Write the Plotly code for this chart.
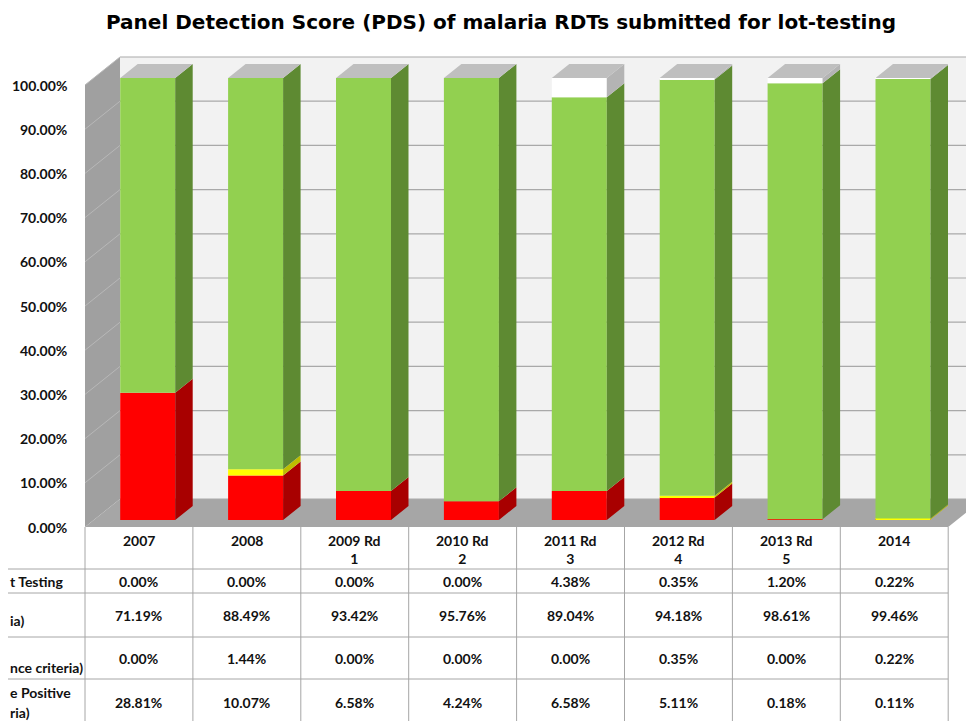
# Panel Detection Score (PDS) of malaria RDTs - 3D-looking stacked columns with data table
import plotly.graph_objects as go

# Categories and the four series (percent of products)
rounds: list[str] = ["2007", "2008", "2009 Rd<br>1", "2010 Rd<br>2", "2011 Rd<br>3",
                     "2012 Rd<br>4", "2013 Rd<br>5", "2014"]
lot_testing: list[float] = [0.00, 0.00, 0.00, 0.00, 4.38, 0.35, 1.20, 0.22]
passed: list[float] = [71.19, 88.49, 93.42, 95.76, 89.04, 94.18, 98.61, 99.46]
borderline: list[float] = [0.00, 1.44, 0.00, 0.00, 0.00, 0.35, 0.00, 0.22]
failed: list[float] = [28.81, 10.07, 6.58, 4.24, 6.58, 5.11, 0.18, 0.11]
y_ticks: list[int] = [0, 10, 20, 30, 40, 50, 60, 70, 80, 90, 100]

# Row labels of the data table (only the right end shows in the picture)
row_labels: list[str] = ["t Testing", "ia)", "nce criteria)", "e Positive", "ria)"]

# Page geometry: the figure sits 8px in from the page corner (body margin)
OFF = 8
W, H = 974 - OFF, 721 - OFF
col_w = 107.9          # width of one category column
x_left = 85            # front-left corner of the floor (screen px)
y_zero = 527           # screen y of 0 %
px_per_pct = 4.42
depth_dx, depth_dy = 35 / col_w, 28 / px_per_pct   # floor depth in data units
bar_w = 55 / col_w

x_range = [-0.5 - (x_left - OFF) / col_w, -0.5 + (974 - x_left) / col_w]
y_range = [(y_zero - 721) / px_per_pct, (y_zero - OFF) / px_per_pct]


def paper_x(p: float) -> float:
    return (p - OFF) / W


def paper_y(p: float) -> float:
    return 1 - (p - OFF) / H


# Series from bottom to top: (values, front colour, side colour)
series = [
    ("Failed", failed, "#FF0000", "#A80000"),
    ("Borderline", borderline, "#FFFF00", "#BDBD00"),
    ("Passed", passed, "#92D050", "#5E8A32"),
    ("Lot testing", lot_testing, "#FFFFFF", "#B4B4B4"),
]

# Bars sit between 1/4 and 3/4 of the floor depth
fx, fy = 0.25 * depth_dx, 0.25 * depth_dy
bx, by = 0.5 * depth_dx, 0.5 * depth_dy

fig: go.Figure = go.Figure()

# Walls, floor and gridlines
shapes = []
back_x0 = -0.5 + depth_dx
shapes.append(dict(type="rect", layer="below", xref="x", yref="y",
                   x0=back_x0, x1=x_range[1], y0=depth_dy, y1=100 + depth_dy,
                   fillcolor="#F2F2F2", line=dict(width=0)))
shapes.append(dict(type="path", layer="below", xref="x", yref="y",
                   path=f"M -0.5 0 L {back_x0} {depth_dy} L {back_x0} {100 + depth_dy} L -0.5 100 Z",
                   fillcolor="#A0A0A0", line=dict(width=0)))
shapes.append(dict(type="path", layer="below", xref="x", yref="y",
                   path=f"M -0.5 0 L 7.5 0 L {7.5 + depth_dx} {depth_dy} L {back_x0} {depth_dy} Z",
                   fillcolor="#A6A6A6", line=dict(width=0)))
for v in y_ticks:
    shapes.append(dict(type="line", layer="below", xref="x", yref="y",
                       x0=back_x0, x1=x_range[1], y0=v + depth_dy, y1=v + depth_dy,
                       line=dict(color="#A9A9A9", width=1.2)))
    if v > 0:
        shapes.append(dict(type="line", layer="below", xref="x", yref="y",
                           x0=-0.5, x1=back_x0, y0=v, y1=v + depth_dy,
                           line=dict(color="#B8B8B8", width=1)))

# Data table grid
row_lines = [569, 593, 637, 679]
for p in row_lines:
    shapes.append(dict(type="line", xref="paper", yref="paper", x0=0, x1=paper_x(x_left + 8 * col_w),
                       y0=paper_y(p), y1=paper_y(p), line=dict(color="#A6A6A6", width=1)))
for i in range(len(rounds) + 1):
    xb = i - 0.5
    shapes.append(dict(type="line", xref="x", yref="paper", x0=xb, x1=xb,
                       y0=paper_y(y_zero), y1=0, line=dict(color="#A6A6A6", width=1)))

# Front faces of the stacked columns
x_front = [i + fx for i in range(len(rounds))]
bottoms = [0.0] * len(rounds)
stack = []
for name, values, front, side in series:
    base = [b + fy for b in bottoms]
    fig.add_trace(go.Bar(x=x_front, y=values, base=base, width=bar_w, name=name,
                         marker=dict(color=front, line=dict(width=0)), showlegend=False))
    stack.append((list(bottoms), values, side))
    bottoms = [b + v for b, v in zip(bottoms, values)]

# Side faces of every segment
for lows, values, side in stack:
    xs, ys = [], []
    for i, (lo, v) in enumerate(zip(lows, values)):
        if v <= 0:
            continue
        xr = x_front[i] + bar_w / 2
        y0, y1 = lo + fy, lo + v + fy
        xs += [xr, xr + bx, xr + bx, xr, xr, None]
        ys += [y0, y0 + by, y1 + by, y1, y0, None]
    fig.add_trace(go.Scatter(x=xs, y=ys, mode="lines", fill="toself", fillcolor=side,
                             line=dict(width=0), hoverinfo="skip", showlegend=False))

# Top faces
xs, ys = [], []
for i, total in enumerate(bottoms):
    xl, xr = x_front[i] - bar_w / 2, x_front[i] + bar_w / 2
    t = total + fy
    xs += [xl, xr, xr + bx, xl + bx, xl, None]
    ys += [t, t, t + by, t + by, t, None]
fig.add_trace(go.Scatter(x=xs, y=ys, mode="lines", fill="toself", fillcolor="#BFBFBF",
                         line=dict(width=0), hoverinfo="skip", showlegend=False))

# Annotations: title, y tick labels, table text
font_tab = dict(family="Lato", size=14, color="#111111")
annotations = [dict(text="<b>Panel Detection Score (PDS) of malaria RDTs submitted for lot-testing</b>",
                    xref="paper", yref="paper", x=paper_x(501), y=1,
                    xanchor="center", yanchor="top", showarrow=False,
                    font=dict(family="DejaVu Sans", size=20, color="#000000"))]
for v in y_ticks:
    annotations.append(dict(text=f"<b>{v:.2f}%</b>", xref="x", yref="y", x=-0.5, y=v,
                            xanchor="right", yanchor="middle", xshift=-16, showarrow=False,
                            font=font_tab))
for i, r in enumerate(rounds):
    annotations.append(dict(text=f"<b>{r}</b>", xref="x", yref="paper", x=i, y=paper_y(530),
                            yanchor="top", showarrow=False, font=font_tab))
row_y = [581, 615, 658, 702]
for values, p in zip([lot_testing, passed, borderline, failed], row_y):
    for i, v in enumerate(values):
        annotations.append(dict(text=f"<b>{v:.2f}%</b>", xref="x", yref="paper", x=i, y=paper_y(p),
                                yanchor="middle", showarrow=False, font=font_tab))
label_y = [581, 620, 667, 692, 712]
for text, p in zip(row_labels, label_y):
    annotations.append(dict(text=f"<b>{text}</b>", xref="paper", yref="paper", x=0, y=paper_y(p),
                            xanchor="left", yanchor="middle", showarrow=False, font=font_tab))

fig.update_layout(
    width=W, height=H,
    margin=dict(l=0, r=0, t=0, b=0),
    barmode="overlay",
    plot_bgcolor="white", paper_bgcolor="white",
    xaxis=dict(range=x_range, visible=False, fixedrange=True),
    yaxis=dict(range=y_range, visible=False, fixedrange=True),
    shapes=shapes,
    annotations=annotations,
)

fig.write_html("out.html")
